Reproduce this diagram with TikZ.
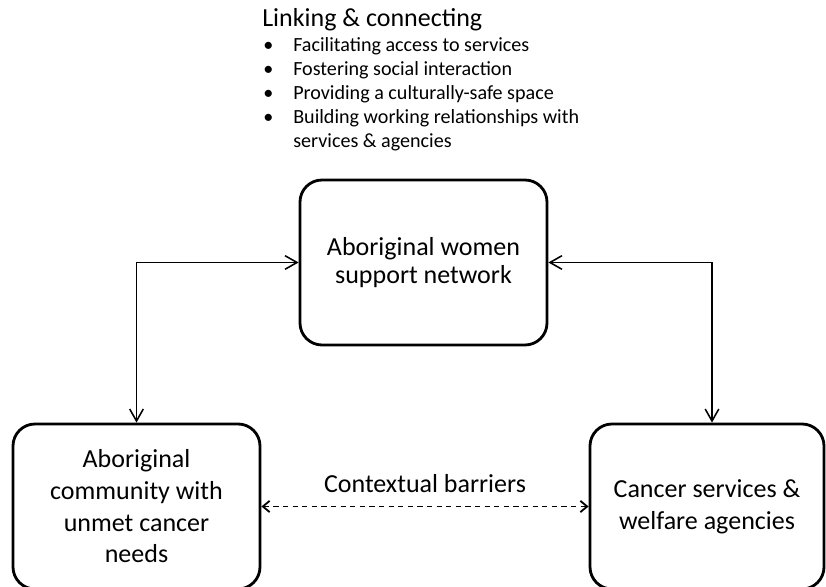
\documentclass[tikz,border=0pt]{standalone}
\usepackage{fontspec}
\setmainfont{Carlito}
\usetikzlibrary{arrows, arrows.meta}

\tikzset{
  box/.style={draw, line width=2pt, rounded corners=0.55cm, minimum width=6.175cm,
    minimum height=4.125cm, align=center, font=\fontsize{18.5}{22.5}\selectfont},
  link/.style={line width=1.1pt,
    {Straight Barb[length=3mm,width=3.4mm]}-{Straight Barb[length=3mm,width=3.4mm]}},
  barrier/.style={line width=1.3pt, dash pattern=on 1.3mm off 1.1mm,
    {Straight Barb[length=1.7mm,width=2.8mm]}-{Straight Barb[length=1.7mm,width=2.8mm]}},
  item/.style={anchor=base west, inner sep=0pt, font=\fontsize{14.3}{17}\selectfont},
}

\begin{document}
\begin{tikzpicture}
\fill[white] (0,0) rectangle (20.65,14.675);
\useasboundingbox (0,0) rectangle (20.65,14.675);

% roles of the network
\node[item, font=\fontsize{18.5}{22}\selectfont] (title) at (6.55,14.0) {Linking \& connecting};
\node[item] (i1) at (6.575,13.375) {\makebox[0.75cm][l]{\textbullet}Facilitating access to services};
\node[item] (i2) at (6.575,12.775) {\makebox[0.75cm][l]{\textbullet}Fostering social interaction};
\node[item] (i3) at (6.575,12.175) {\makebox[0.75cm][l]{\textbullet}Providing a culturally-safe space};
\node[item] (i4) at (6.575,11.575) {\makebox[0.75cm][l]{\textbullet}Building working relationships with};
\node[item] (i5) at (7.325,10.975) {services \& agencies};

% the three parties
\node[box, font=\fontsize{18.5}{20}\selectfont] (net) at (10.5875,8.1125) {Aboriginal women\\support network};
\node[box] (comm) at (3.4125,2.0125) {Aboriginal\\community with\\unmet cancer\\needs};
\node[box, minimum width=5.85cm] (serv) at (17.675,2.0125) {Cancer services \&\\welfare agencies};

\draw[link] (net.west) -| (comm.north);
\draw[link] (net.east) -| ([xshift=1.25mm]serv.north);

\draw[barrier] (comm.east) -- (serv.west)
  node[midway, above=6pt, font=\fontsize{18.5}{22}\selectfont] (ctx) {Contextual barriers};
\end{tikzpicture}
\end{document}
